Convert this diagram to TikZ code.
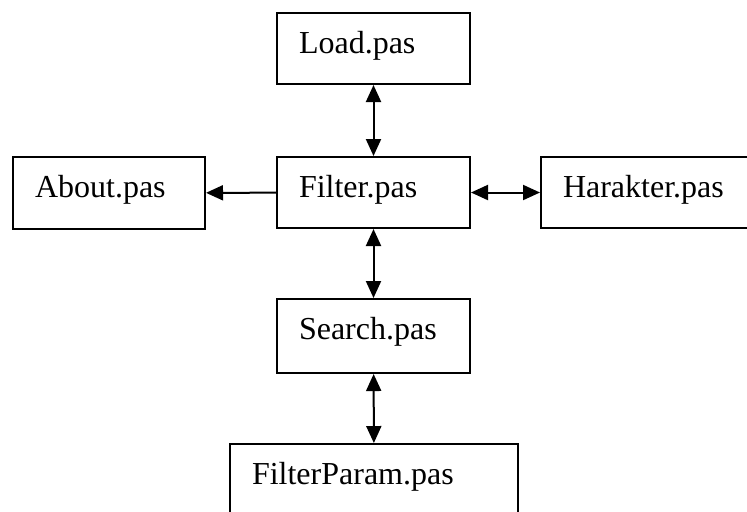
\documentclass[tikz,border=0pt]{standalone}
\usepackage{fontspec}
\setmainfont{Liberation Serif}
\usetikzlibrary{arrows.meta}

\begin{document}
\begin{tikzpicture}[x=0.5pt,y=-0.5pt,
    unit/.style={draw,line width=1pt,anchor=north west,inner xsep=11pt,inner ysep=0pt,
      align=left,text height=20pt,font=\fontsize{16}{19}\selectfont},
    link/.style={line width=1pt,-{Triangle[length=8.5pt,width=7.5pt]}},
    both/.style={link,{Triangle[length=8.5pt,width=7.5pt]}-{Triangle[length=8.5pt,width=7.5pt]}}]
      \clip (0,0) rectangle (747,511);

      \node [unit,text width=74.5pt,text depth=15.5pt] (load) at (276,12) {Load.pas};
      \node [unit,text width=74.5pt,text depth=15.5pt] (filter) at (276,156) {Filter.pas};
      \node [unit,text width=74pt,text depth=16pt] (about) at (12,156) {About.pas};
      \node [unit,text width=83pt,text depth=15.5pt] (harakter) at (540,156) {Harakter.pas};
      \node [unit,text width=74.5pt,text depth=17pt] (search) at (276,298) {Search.pas};
      \node [unit,text width=122pt,text depth=20pt] (param) at (229,443) {FilterParam.pas};

      \draw [both] (load) -- (filter);
      \draw [link] (filter) -- (about);
      \draw [both] (filter) -- (harakter);
      \draw [both] (filter) -- (search);
      \draw [both] (search) -- (param);

    \end{tikzpicture}
\end{document}
